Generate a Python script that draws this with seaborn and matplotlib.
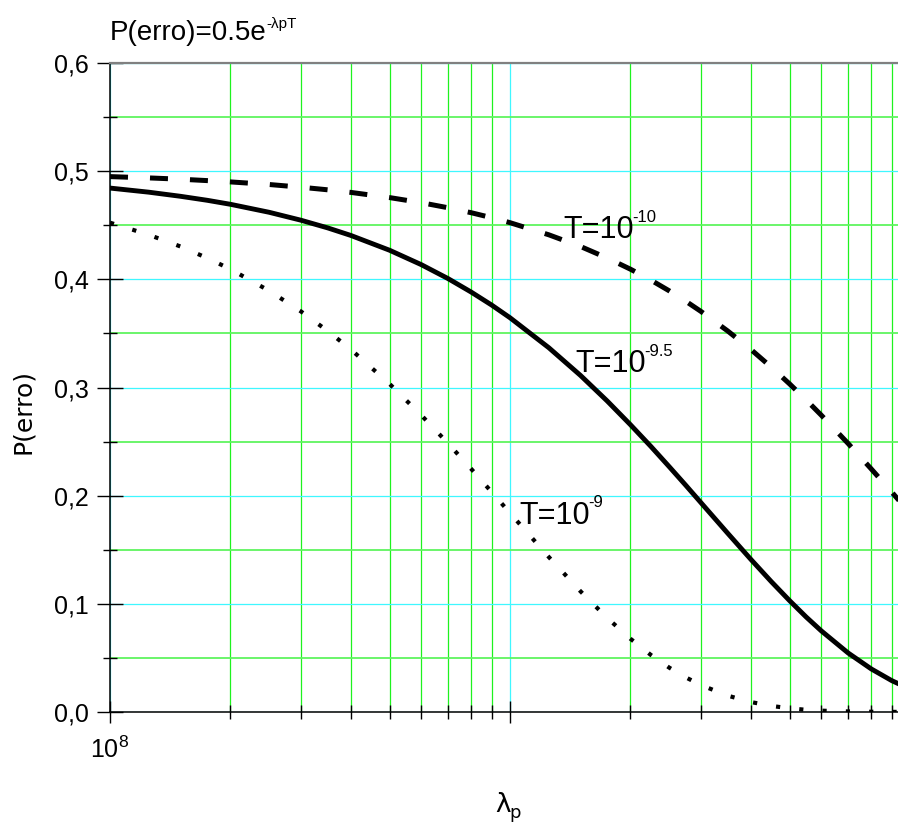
import matplotlib
matplotlib.use("Agg")
import matplotlib.pyplot as plt
import matplotlib.ticker as mticker
import numpy as np
import pandas as pd
import seaborn as sns

# Arrival rate lambda_p (1/s)
lam = [1e8, 1.25e8, 1.5e8, 1.75e8, 2e8, 2.5e8, 3e8, 3.5e8, 4e8, 5e8, 6e8,
       7e8, 8e8, 9e8, 1e9, 1.25e9, 1.5e9, 1.75e9, 2e9, 2.25e9, 2.5e9, 2.75e9,
       3e9, 3.5e9, 4e9, 4.5e9, 5e9, 5.5e9, 6e9, 7e9, 8e9, 9e9, 1e10]

# Error probability for each bit period T
p_t10 = [0.4950, 0.4938, 0.4926, 0.4913, 0.4901, 0.4877, 0.4852, 0.4828,
         0.4804, 0.4756, 0.4709, 0.4662, 0.4616, 0.4570, 0.4524, 0.4412,
         0.4304, 0.4197, 0.4094, 0.3993, 0.3894, 0.3798, 0.3704, 0.3523,
         0.3352, 0.3188, 0.3033, 0.2885, 0.2744, 0.2483, 0.2247, 0.2033,
         0.1839]
p_t95 = [0.4844, 0.4806, 0.4768, 0.4731, 0.4694, 0.4620, 0.4547, 0.4476,
         0.4406, 0.4269, 0.4136, 0.4007, 0.3882, 0.3762, 0.3645, 0.3368,
         0.3112, 0.2875, 0.2656, 0.2455, 0.2268, 0.2096, 0.1936, 0.1653,
         0.1411, 0.1205, 0.1029, 0.0878, 0.0750, 0.0546, 0.0398, 0.0290,
         0.0212]
p_t9 = [0.4524, 0.4412, 0.4304, 0.4197, 0.4094, 0.3894, 0.3704, 0.3523,
        0.3352, 0.3033, 0.2744, 0.2483, 0.2247, 0.2033, 0.1839, 0.1433,
        0.1116, 0.0869, 0.0677, 0.0527, 0.0410, 0.0320, 0.0249, 0.0151,
        0.0092, 0.0056, 0.0034, 0.0020, 0.0012, 0.0005, 0.0002, 0.0001,
        0.0000]

y_ticks = [0.0, 0.1, 0.2, 0.3, 0.4, 0.5, 0.6]
y_tick_labels = ["0,0", "0,1", "0,2", "0,3", "0,4", "0,5", "0,6"]
x_major = [1e8, 1e9, 1e10]
x_major_labels = [r"$\mathdefault{10^{8}}$", "", ""]

sns.set_theme(style="white")
plt.rcParams["font.family"] = ["Liberation Sans", "DejaVu Sans"]
plt.rcParams["mathtext.fontset"] = "custom"
plt.rcParams["mathtext.rm"] = "Liberation Sans"
plt.rcParams["mathtext.it"] = "Liberation Sans:italic"
plt.rcParams["mathtext.bf"] = "Liberation Sans:bold"
plt.rcParams["text.color"] = "black"
plt.rcParams["xtick.color"] = "black"
plt.rcParams["ytick.color"] = "black"
plt.rcParams["xtick.labelcolor"] = "black"
plt.rcParams["ytick.labelcolor"] = "black"

df = pd.DataFrame({"lam": lam, "t10": p_t10, "t95": p_t95, "t9": p_t9})

fig = plt.figure(figsize=(8.98, 8.23), dpi=100)
ax = fig.add_axes([0.1225, 0.1349, 0.8909, 0.7885])

sns.lineplot(data=df, x="lam", y="t10", ax=ax, color="black", lw=3.6,
             linestyle=(0, (3.6, 4.4)), zorder=3)
sns.lineplot(data=df, x="lam", y="t95", ax=ax, color="black", lw=3.5,
             zorder=3)
sns.lineplot(data=df, x="lam", y="t9", ax=ax, color="black", lw=3.0,
             linestyle=(0, (1, 4.6)), zorder=3)

ax.set_xscale("log")
ax.set_xlim(1e8, 1e10)
ax.set_ylim(0, 0.6)

ax.xaxis.set_major_locator(mticker.FixedLocator(x_major))
ax.xaxis.set_major_formatter(mticker.FixedFormatter(x_major_labels))
ax.xaxis.set_minor_locator(mticker.LogLocator(base=10, subs=np.arange(2, 10)))
ax.xaxis.set_minor_formatter(mticker.NullFormatter())

ax.yaxis.set_major_locator(mticker.FixedLocator(y_ticks))
ax.yaxis.set_major_formatter(mticker.FixedFormatter(y_tick_labels))
ax.yaxis.set_minor_locator(mticker.MultipleLocator(0.05))

ax.set_axisbelow(True)
ax.grid(which="major", axis="both", color="#3ff7ff", lw=0.9)
ax.grid(which="minor", axis="x", color="#1ef21e", lw=0.9)
ax.grid(which="minor", axis="y", color="#5ff55f", lw=1.3)

ax.tick_params(axis="y", which="major", direction="inout", length=18.7,
               width=1.0, color="black", labelsize=18, pad=6, left=True,
               labelcolor="black")
ax.tick_params(axis="y", which="minor", direction="inout", length=9.4,
               width=1.0, color="black", left=True)
ax.tick_params(axis="x", which="major", direction="inout", length=16,
               width=1.0, color="black", labelsize=18, pad=10, bottom=True,
               labelcolor="black")
ax.tick_params(axis="x", which="minor", direction="inout", length=9.4,
               width=1.0, color="black", bottom=True)

for side in ("left", "bottom"):
    ax.spines[side].set_color("black")
    ax.spines[side].set_linewidth(1.1)
ax.spines["top"].set_color("#808080")
ax.spines["top"].set_linewidth(1.6)
ax.spines["right"].set_visible(False)

ax.set_xlabel("")
ax.set_ylabel("")

# Axis titles
fig.text(0.026, 0.50, "P(erro)", rotation=90, ha="center", va="center",
         fontsize=18, family="DejaVu Sans", color="black")
fig.text(0.5512, 0.0134, "λ", ha="left", va="baseline",
         fontsize=19, family="DejaVu Sans", color="black")
fig.text(0.5668, 0.0065, "p", ha="left", va="baseline",
         fontsize=13, family="DejaVu Sans", color="black")

# Formula heading
ttl = fig.text(0.1225, 0.9514, "P(erro)=0.5e", ha="left", va="baseline",
               fontsize=20, color="black")
ax.annotate("-λpT", xy=(1, 1), xycoords=ttl, xytext=(0, 2),
            textcoords="offset points", ha="left", va="top", fontsize=11,
            color="black")

# Curve labels
curve_labels = [("T=10", "-10", 1.357e9, 0.438),
                ("T=10", "-9.5", 1.454e9, 0.314),
                ("T=10", "-9", 1.053e9, 0.174)]
for base, exp, xp, yp in curve_labels:
    t = ax.text(xp, yp, base, ha="left", va="baseline", fontsize=22, zorder=4,
                color="black")
    ax.annotate(exp, xy=(1, 1), xycoords=t, xytext=(-1, 4),
                textcoords="offset points", ha="left", va="top",
                fontsize=12, zorder=4, color="black")

fig.savefig("out.png", dpi=100)
